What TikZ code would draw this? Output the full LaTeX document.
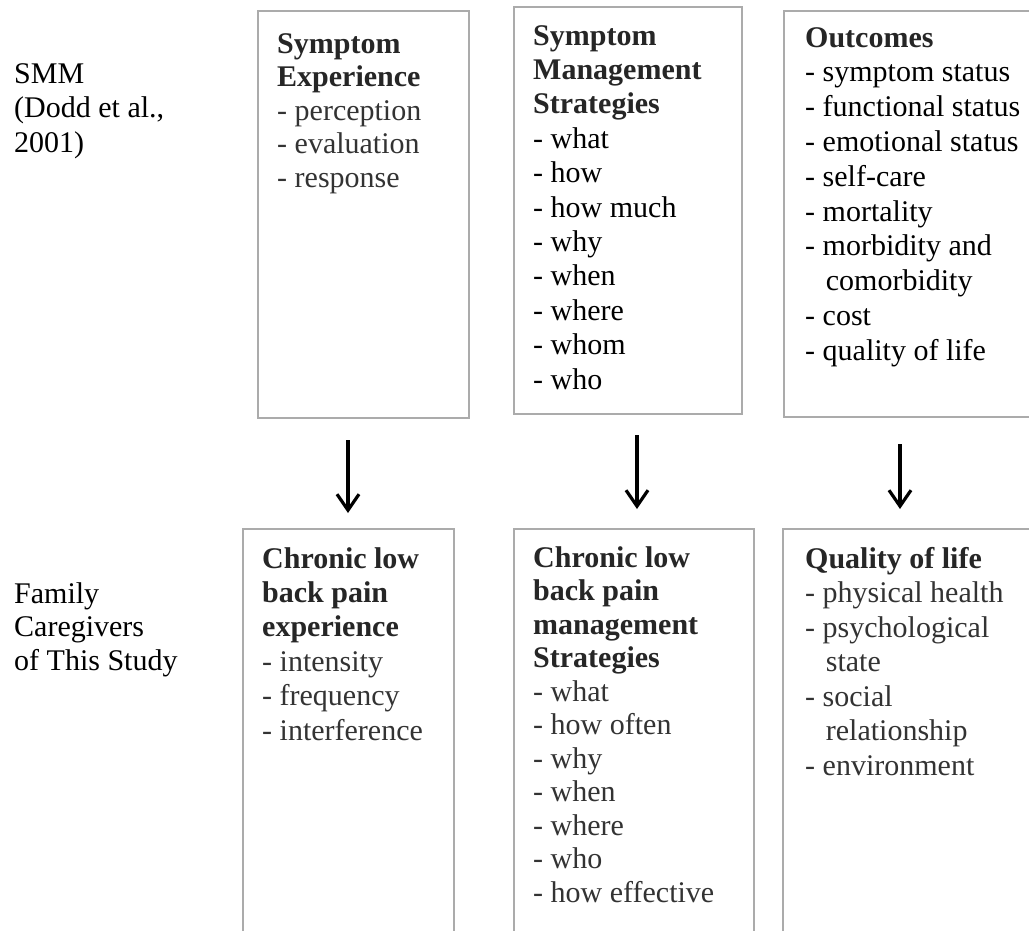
\documentclass[tikz,border=0pt]{standalone}
\usepackage{fontspec}
\setmainfont{Liberation Serif}
\usetikzlibrary{arrows.meta}
\definecolor{boxgray}{HTML}{ABABAB}
\definecolor{headc}{HTML}{262626}
\definecolor{softc}{HTML}{333333}
\newcommand{\contind}{\hspace*{0.69em}}
\begin{document}
\begin{tikzpicture}[x=1pt,y=-1pt,
  frame/.style={draw=boxgray, line width=2pt, rectangle, inner sep=0pt, anchor=north west},
  txt/.style={anchor=base west, inner sep=0pt, align=left},
  flow/.style={line width=3.2pt, -{Straight Barb[length=16pt,width=22pt]}}]
\useasboundingbox (0,0) rectangle (1029,930);
\clip (0,0) rectangle (1029,930);
\fill[white] (0,0) rectangle (1029,930);

% frames, top row (SMM)
\node[frame, minimum width=211pt, minimum height=407pt] (smmexp) at (257,10) {};
\node[frame, minimum width=228pt, minimum height=407pt] (smmstr) at (513,6) {};
\node[frame, minimum width=280pt, minimum height=406pt] (smmout) at (783,10) {};
% frames, bottom row (this study)
\node[frame, minimum width=211pt, minimum height=440pt] (fcexp) at (242,528) {};
\node[frame, minimum width=240pt, minimum height=440pt] (fcstr) at (513,528) {};
\node[frame, minimum width=280pt, minimum height=440pt] (fcqol) at (782,528) {};

% row labels
\node[txt] (lblsmm) at (14,83) {\fontsize{30}{34.5}\selectfont\begin{tabular}[t]{@{}l@{}}SMM\\(Dodd et al.,\\2001)\end{tabular}};
\node[txt] (lblfc) at (14,603) {\fontsize{30}{33.5}\selectfont\begin{tabular}[t]{@{}l@{}}Family\\Caregivers\\of This Study\end{tabular}};

% texts, top row
\node[txt, text=softc] (t1) at (277,53) {\fontsize{30}{33.5}\selectfont\begin{tabular}[t]{@{}l@{}}\textcolor{headc}{\textbf{Symptom}}\\\textcolor{headc}{\textbf{Experience}}\\- perception\\- evaluation\\- response\end{tabular}};
\node[txt] (t2) at (533,45) {\fontsize{30}{34.4}\selectfont\begin{tabular}[t]{@{}l@{}}\textcolor{headc}{\textbf{Symptom}}\\\textcolor{headc}{\textbf{Management}}\\\textcolor{headc}{\textbf{Strategies}}\\- what\\- how\\- how much\\- why\\- when\\- where\\- whom\\- who\end{tabular}};
\node[txt] (t3) at (805,47) {\fontsize{30}{34.8}\selectfont\begin{tabular}[t]{@{}l@{}}\textcolor{headc}{\textbf{Outcomes}}\\- symptom status\\- functional status\\- emotional status\\- self-care\\- mortality\\- morbidity and\\\contind comorbidity\\- cost\\- quality of life\end{tabular}};

% texts, bottom row
\node[txt, text=softc] (t4) at (262,568) {\fontsize{30}{34.4}\selectfont\begin{tabular}[t]{@{}l@{}}\textcolor{headc}{\textbf{Chronic low}}\\\textcolor{headc}{\textbf{back pain}}\\\textcolor{headc}{\textbf{experience}}\\- intensity\\- frequency\\- interference\end{tabular}};
\node[txt, text=softc] (t5) at (533,567) {\fontsize{30}{33.5}\selectfont\begin{tabular}[t]{@{}l@{}}\textcolor{headc}{\textbf{Chronic low}}\\\textcolor{headc}{\textbf{back pain}}\\\textcolor{headc}{\textbf{management}}\\\textcolor{headc}{\textbf{Strategies}}\\- what\\- how often\\- why\\- when\\- where\\- who\\- how effective\end{tabular}};
\node[txt, text=softc] (t6) at (805,568) {\fontsize{30}{34.5}\selectfont\begin{tabular}[t]{@{}l@{}}\textcolor{headc}{\textbf{Quality of life}}\\- physical health\\- psychological\\\contind state\\- social\\\contind relationship\\- environment\end{tabular}};

% arrows
\coordinate (a1s) at (348,440);
\coordinate (a1e) at (348,513);
\coordinate (a2s) at (637,435);
\coordinate (a2e) at (637,509);
\coordinate (a3s) at (900,444);
\coordinate (a3e) at (900,509);
\draw[flow] (a1s) -- (a1e);
\draw[flow] (a2s) -- (a2e);
\draw[flow] (a3s) -- (a3e);
\end{tikzpicture}
\end{document}
